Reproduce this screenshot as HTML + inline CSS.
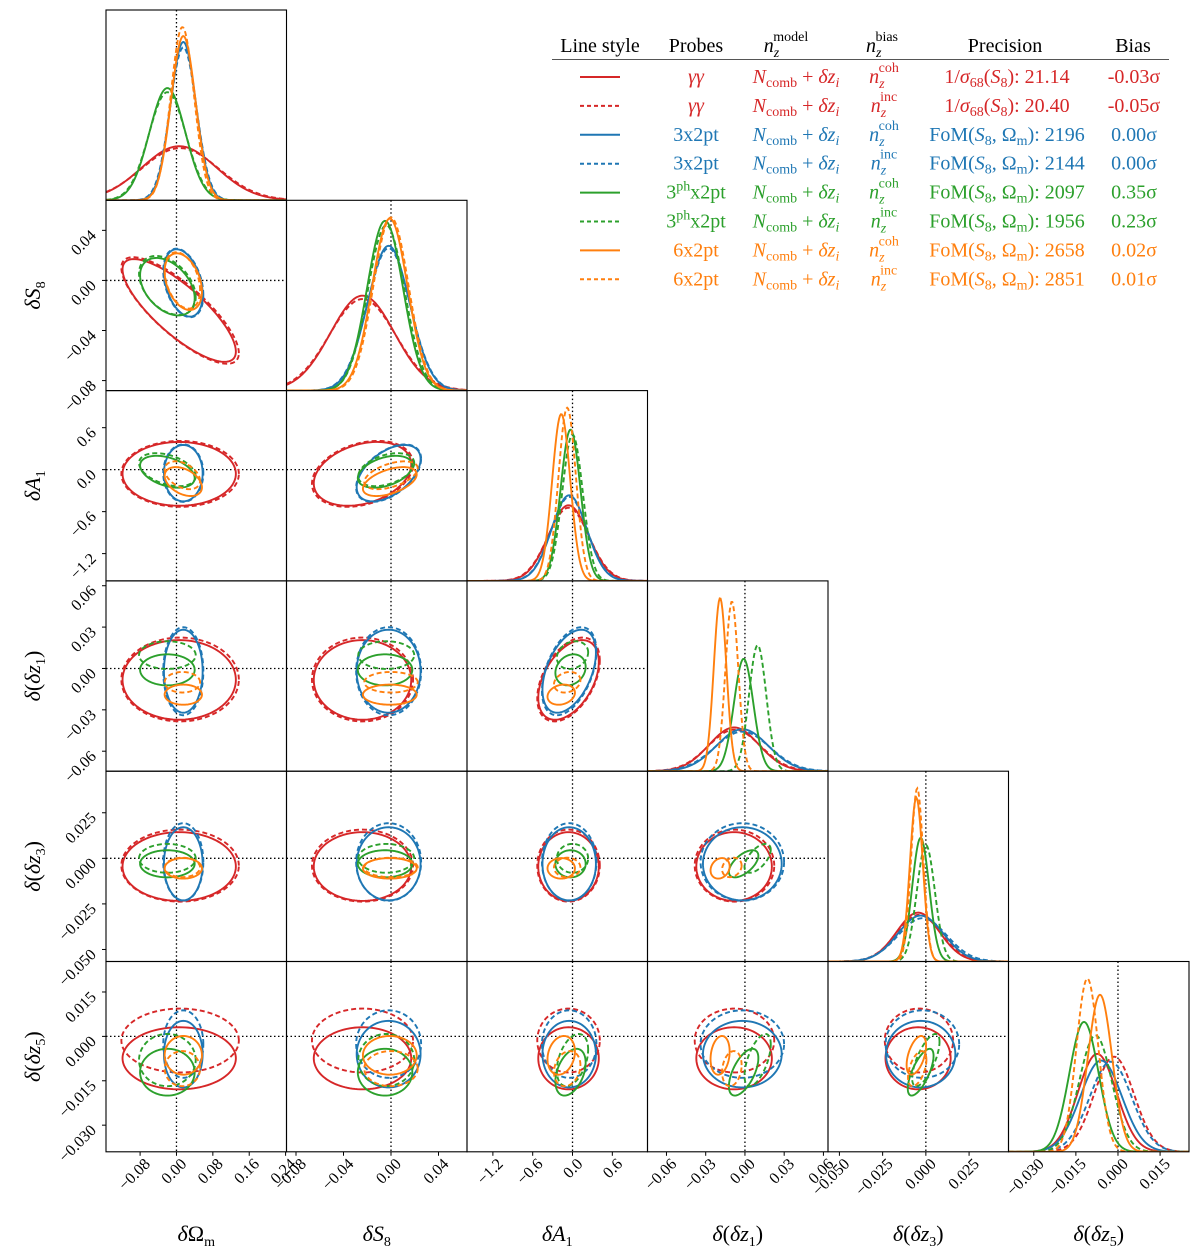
<!DOCTYPE html>
<html><head><meta charset="utf-8"><style>
html,body{margin:0;padding:0;background:#fff;}
svg{display:block;font-family:"Liberation Serif","DejaVu Serif",serif;}
</style></head><body>
<svg id="chart" width="1200" height="1259" viewBox="0 0 1200 1259" xmlns="http://www.w3.org/2000/svg">
<g id="legend" font-size="20">
  <text x="600" y="52" text-anchor="middle">Line style</text>
  <text x="696" y="52" text-anchor="middle">Probes</text>
  <text x="786" y="52" text-anchor="middle"><tspan font-style="italic">n</tspan><tspan font-size="14" font-style="italic" dy="5">z</tspan><tspan font-size="14" dx="-6" dy="-16">model</tspan></text>
  <text x="882" y="52" text-anchor="middle"><tspan font-style="italic">n</tspan><tspan font-size="14" font-style="italic" dy="5">z</tspan><tspan font-size="14" dx="-6" dy="-16">bias</tspan></text>
  <text x="1005" y="52" text-anchor="middle">Precision</text>
  <text x="1133" y="52" text-anchor="middle">Bias</text>
  <line x1="552" y1="59.5" x2="1169" y2="59.5" stroke="#555" stroke-width="1"/>
</g>
<g id="plots"></g>
</svg>
<script>
// ---- data (8 series: red solid, red dashed, blue solid, blue dashed, green solid, green dashed, orange solid, orange dashed)
const seriesProbes = ["γγ","γγ","3x2pt","3x2pt","3phx2pt","3phx2pt","6x2pt","6x2pt"];
const seriesBiasModel = ["coh","inc","coh","inc","coh","inc","coh","inc"];
const seriesPrecision = ["21.14","20.40","2196","2144","2097","1956","2658","2851"];
const seriesBias = ["-0.03σ","-0.05σ","0.00σ","0.00σ","0.35σ","0.23σ","0.02σ","0.01σ"];
const meanOm  = [0.006, 0.008, 0.015, 0.015, -0.02, -0.02, 0.015, 0.013];
const meanS8  = [-0.024, -0.024, -0.002, -0.002, -0.005, -0.004, -0.001, 0.000];
const meanA1  = [-0.06, -0.06, -0.05, -0.05, -0.03, 0.0, -0.17, -0.08];
const meanDz1 = [-0.0083, -0.008, -0.002, -0.002, -0.001, 0.0097, -0.019, -0.010];
const meanDz3 = [-0.0045, -0.004, -0.003, -0.002, -0.003, 0.000, -0.0055, -0.005];
const meanDz5 = [-0.0074, -0.0014, -0.006, -0.0026, -0.0121, -0.008, -0.0064, -0.0109];
const sigOm  = [0.082, 0.085, 0.028, 0.029, 0.0395, 0.041, 0.027, 0.0256];
const sigS8  = [0.027, 0.028, 0.0177, 0.018, 0.0151, 0.0155, 0.0149, 0.0148];
const sigA1  = [0.30, 0.31, 0.265, 0.27, 0.15, 0.155, 0.136, 0.131];
const sigDz1 = [0.019, 0.020, 0.0198, 0.021, 0.0074, 0.0066, 0.0048, 0.0049];
const sigDz3 = [0.0124, 0.013, 0.0132, 0.014, 0.0049, 0.0052, 0.0037, 0.0035];
const sigDz5 = [0.0069, 0.0071, 0.0074, 0.0075, 0.0052, 0.0058, 0.0043, 0.0039];
const corrOmS8   = [-0.8, -0.8, -0.35, -0.35, -0.4, -0.4, -0.35, -0.35];
const corrOmA1   = [0, 0, 0, 0, -0.4, -0.4, -0.4, -0.4];
const corrS8A1   = [0.3, 0.3, 0.5, 0.5, 0.4, 0.4, 0.5, 0.5];
const corrA1Dz1  = [0.45, 0.45, 0.45, 0.45, 0.2, 0.2, 0.2, 0.2];
const corrDz1Dz3 = [0, 0, 0, 0, 0.6, 0.6, 0.2, 0.2];
const corrDz3Dz5 = [0, 0, 0, 0, 0.7, 0.7, 0.5, 0.5];
const corrDz1Dz5 = [0, 0, 0, 0, 0.6, 0.6, 0.2, 0.2];
const corrA1Dz5  = [0, 0, 0, 0, 0.4, 0.4, 0.2, 0.2];
const ticksOm  = [-0.08, 0, 0.08, 0.16, 0.24];
const ticksS8  = [-0.08, -0.04, 0, 0.04];
const ticksA1  = [-1.2, -0.6, 0, 0.6];
const ticksDz1 = [-0.06, -0.03, 0, 0.03, 0.06];
const ticksDz3 = [-0.05, -0.025, 0, 0.025];
const ticksDz5 = [-0.03, -0.015, 0, 0.015];
const tickLabOm  = ["−0.08","0.00","0.08","0.16","0.24"];
const tickLabS8  = ["−0.08","−0.04","0.00","0.04"];
const tickLabA1  = ["−1.2","−0.6","0.0","0.6"];
const tickLabDz1 = ["−0.06","−0.03","0.00","0.03","0.06"];
const tickLabDz3 = ["−0.050","−0.025","0.000","0.025"];
const tickLabDz5 = ["−0.030","−0.015","0.000","0.015"];

const colors = ["#d62728","#d62728","#1f77b4","#1f77b4","#2ca02c","#2ca02c","#ff7f0e","#ff7f0e"];
const dashed = [false,true,false,true,false,true,false,true];
const drawOrder = [0,1,2,3,4,5,6,7];
const means = [meanOm, meanS8, meanA1, meanDz1, meanDz3, meanDz5];
const sigs = [sigOm, sigS8, sigA1, sigDz1, sigDz3, sigDz5];
const ticks = [ticksOm, ticksS8, ticksA1, ticksDz1, ticksDz3, ticksDz5];
const tickLabs = [tickLabOm, tickLabS8, tickLabA1, tickLabDz1, tickLabDz3, tickLabDz5];
const lo = [-0.155, -0.088, -1.59, -0.0745, -0.0566, -0.039];
const hi = [0.242, 0.064, 1.13, 0.0635, 0.0478, 0.0253];
const corrTable = {"0-1":corrOmS8,"0-2":corrOmA1,"1-2":corrS8A1,"2-3":corrA1Dz1,"3-4":corrDz1Dz3,"4-5":corrDz3Dz5,"3-5":corrDz1Dz5,"2-5":corrA1Dz5};
function corr(a,b,s){const k=Math.min(a,b)+"-"+Math.max(a,b);return corrTable[k]?corrTable[k][s]:0;}

const NS="http://www.w3.org/2000/svg";
const X0=106, Y0=10, PW=180.5, PH=190.3, N=6;
const root=document.getElementById('plots');
function el(tag,attrs,parent){const e=document.createElementNS(NS,tag);for(const k in attrs)e.setAttribute(k,attrs[k]);(parent||root).appendChild(e);return e;}
function xp(p,col,v){return X0+col*PW+(v-lo[p])/(hi[p]-lo[p])*PW;}
function yp(p,row,v){return Y0+row*PH+(hi[p]-v)/(hi[p]-lo[p])*PH;}

const defs=el('defs',{});
for(let r=0;r<N;r++){for(let c=0;c<=r;c++){
  const cp=el('clipPath',{id:'clip'+r+'_'+c},defs);
  el('rect',{x:X0+c*PW,y:Y0+r*PH,width:PW,height:PH},cp);
}}

const K=1.52;
for(let r=0;r<N;r++){for(let c=0;c<=r;c++){
  const g=el('g',{'clip-path':'url(#clip'+r+'_'+c+')'});
  
  
  const vx=xp(c,c,0);
  const vl=el('line',{x1:vx,y1:Y0+r*PH,x2:vx,y2:Y0+(r+1)*PH,stroke:'#000','stroke-width':1.3,'stroke-dasharray':'1.5,2.5'},g);
  
  
  if(r!==c){
    const hy=yp(r,r,0);
    const hl=el('line',{x1:X0+c*PW,y1:hy,x2:X0+(c+1)*PW,y2:hy,stroke:'#000','stroke-width':1.3,'stroke-dasharray':'1.5,2.5'},g);
    
    
  }
  if(r===c){
    const p=c;
    let smin=Infinity;for(const s of drawOrder)smin=Math.min(smin,sigs[p][s]);
    const H=0.91*PH, base=Y0+(r+1)*PH;
    for(const s of drawOrder){
      const m=means[p][s], sg=sigs[p][s];
      let d='';
      for(let i=0;i<=200;i++){
        const v=lo[p]+(hi[p]-lo[p])*i/200;
        const z=(v-m)/sg;
        const y=base-H*(smin/sg)*Math.exp(-0.5*z*z);
        d+=(i?'L':'M')+xp(p,c,v).toFixed(2)+','+y.toFixed(2);
      }
      const path=el('path',{d:d,fill:'none',stroke:colors[s],'stroke-width':1.9,'stroke-dasharray':dashed[s]?'5,3':'none'},g);
      
      
    }
  } else {
    const px=c, py=r;
    for(const s of drawOrder){
      const mx=means[px][s], my=means[py][s], sx=sigs[px][s], sy=sigs[py][s], rho=corr(px,py,s);
      let d='';
      for(let i=0;i<=120;i++){
        const t=2*Math.PI*i/120;
        const vx2=mx+K*sx*Math.cos(t);
        const vy2=my+K*sy*(rho*Math.cos(t)+Math.sqrt(1-rho*rho)*Math.sin(t));
        d+=(i?'L':'M')+xp(px,c,vx2).toFixed(2)+','+yp(py,r,vy2).toFixed(2);
      }
      const path=el('path',{d:d+'Z',fill:'none',stroke:colors[s],'stroke-width':1.9,'stroke-dasharray':dashed[s]?'5,3':'none'},g);
      
      
    }
  }
  const fr=el('rect',{x:X0+c*PW,y:Y0+r*PH,width:PW,height:PH,fill:'none',stroke:'#000','stroke-width':1.1});
  
  
}}

const botY=Y0+N*PH;
for(let c=0;c<N;c++){
  ticks[c].forEach((v,i)=>{
    const x=xp(c,c,v);
    const tl=el('line',{x1:x,y1:botY,x2:x,y2:botY+4,stroke:'#000','stroke-width':1});
    
    
    const tx=el('text',{x:x+11,y:botY+13,'text-anchor':'end','font-size':16,transform:'rotate(-45 '+(x+11)+' '+(botY+13)+')'});
    tx.textContent=tickLabs[c][i];
    
    
  });
}
for(let r=1;r<N;r++){
  ticks[r].forEach((v,i)=>{
    const y=yp(r,r,v);
    const tl=el('line',{x1:X0-4,y1:y,x2:X0,y2:y,stroke:'#000','stroke-width':1});
    
    
    const ax=X0-9, ay=y+6;
    const tx=el('text',{x:ax,y:ay,'text-anchor':'end','font-size':16,transform:'rotate(-45 '+ax+' '+ay+')'});
    tx.textContent=tickLabs[r][i];
    
    
  });
}
const titleHTML=[
 '<tspan font-style="italic">δ</tspan>Ω<tspan font-size="14" dy="5">m</tspan>',
 '<tspan font-style="italic">δS</tspan><tspan font-size="14" dy="5">8</tspan>',
 '<tspan font-style="italic">δA</tspan><tspan font-size="14" dy="5">1</tspan>',
 '<tspan font-style="italic">δ</tspan>(<tspan font-style="italic">δz</tspan><tspan font-size="14" dy="5">1</tspan><tspan dy="-5">)</tspan>',
 '<tspan font-style="italic">δ</tspan>(<tspan font-style="italic">δz</tspan><tspan font-size="14" dy="5">3</tspan><tspan dy="-5">)</tspan>',
 '<tspan font-style="italic">δ</tspan>(<tspan font-style="italic">δz</tspan><tspan font-size="14" dy="5">5</tspan><tspan dy="-5">)</tspan>'];
for(let c=0;c<N;c++){
  const t=el('text',{x:X0+(c+0.5)*PW,y:1241,'text-anchor':'middle','font-size':22});
  t.innerHTML=titleHTML[c];
  
  
}
for(let r=1;r<N;r++){
  const cy=Y0+(r+0.5)*PH, cx=40;
  const t=el('text',{x:cx,y:cy,'text-anchor':'middle','font-size':22,transform:'rotate(-90 '+cx+' '+cy+')'});
  t.innerHTML=titleHTML[r];
  
  
}
const leg=document.getElementById('legend');
for(let s=0;s<8;s++){
  const y=83+28.9*s, col=colors[s];
  const g=el('g',{fill:col,'font-size':20},leg);
  
  
  el('line',{x1:580,y1:y-6,x2:620,y2:y-6,stroke:col,'stroke-width':2,'stroke-dasharray':dashed[s]?'4,3':'none'},g);
  const pr=el('text',{x:696,y:y,'text-anchor':'middle'},g);
  if(s<2) pr.innerHTML='<tspan font-style="italic">γγ</tspan>';
  else if(s<4) pr.textContent='3x2pt';
  else if(s<6) pr.innerHTML='3<tspan font-size="14" dy="-8">ph</tspan><tspan dy="8">x2pt</tspan>';
  else pr.textContent='6x2pt';
  const md=el('text',{x:796,y:y,'text-anchor':'middle'},g);
  md.innerHTML='<tspan font-style="italic">N</tspan><tspan font-size="14" dy="4">comb</tspan><tspan dy="-4"> + </tspan><tspan font-style="italic">δz</tspan><tspan font-size="14" font-style="italic" dy="4">i</tspan>';
  const bm=el('text',{x:884,y:y,'text-anchor':'middle'},g);
  bm.innerHTML='<tspan font-style="italic">n</tspan><tspan font-size="14" font-style="italic" dy="5">z</tspan><tspan font-size="14" dx="-6" dy="-16">'+seriesBiasModel[s]+'</tspan>';
  const pc=el('text',{x:1007,y:y,'text-anchor':'middle'},g);
  if(s<2) pc.innerHTML='1/<tspan font-style="italic">σ</tspan><tspan font-size="14" dy="4">68</tspan><tspan dy="-4">(</tspan><tspan font-style="italic">S</tspan><tspan font-size="14" dy="4">8</tspan><tspan dy="-4">):  '+seriesPrecision[s]+'</tspan>';
  else pc.innerHTML='FoM(<tspan font-style="italic">S</tspan><tspan font-size="14" dy="4">8</tspan><tspan dy="-4">, Ω</tspan><tspan font-size="14" dy="4">m</tspan><tspan dy="-4">):  '+seriesPrecision[s]+'</tspan>';
  const bi=el('text',{x:1134,y:y,'text-anchor':'middle'},g);
  bi.textContent=seriesBias[s];
}
</script>
</body></html>
